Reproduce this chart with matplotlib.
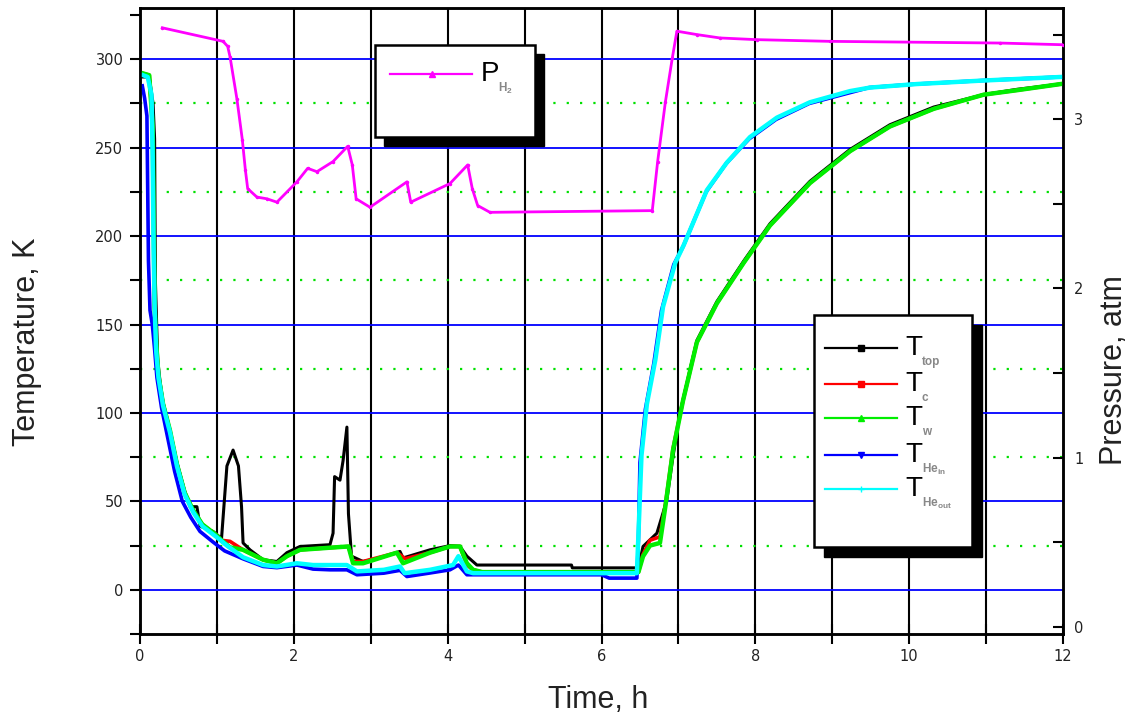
import numpy as np
import matplotlib
matplotlib.use('Agg')
import matplotlib.pyplot as plt
from matplotlib.ticker import MultipleLocator, FixedLocator
from matplotlib.patches import Rectangle
from matplotlib.lines import Line2D

# ---- data (time in h, T in K, P in atm) ----
t_top = [0.04, 0.12, 0.17, 0.19, 0.20, 0.23, 0.26, 0.30, 0.39, 0.48, 0.58, 0.65, 0.74, 0.78, 0.95,
         1.06, 1.13, 1.21, 1.28, 1.32, 1.34, 1.43, 1.60, 1.78, 1.91, 2.08, 2.47, 2.51, 2.53, 2.60,
         2.64, 2.69, 2.71, 2.75, 2.90, 3.12, 3.38, 3.42, 3.77, 4.03, 4.16, 4.25, 4.38, 5.61, 5.62,
         6.48, 6.54, 6.72, 6.80, 6.85, 6.93, 7.02, 7.24, 7.50, 7.85, 8.19, 8.71, 9.23, 9.75,
         10.32, 10.97, 11.40, 11.97]
T_top = [290, 290, 275, 255, 175, 130, 118, 106, 90, 72, 56, 47, 47, 36, 33,
         29, 70, 79, 70, 47, 26.5, 22.6, 17, 16, 21, 24.5, 25.5, 32, 64, 62,
         73, 92, 43, 19, 16, 18, 21.7, 18, 22.6, 25, 24.5, 19, 14, 14, 12.4,
         12.4, 24.5, 32, 43.5, 51, 75.5, 100, 141, 163, 186, 207, 231, 249, 263,
         273, 280, 283, 286]

t_w = [0.04, 0.12, 0.165, 0.18, 0.19, 0.21, 0.24, 0.30, 0.39, 0.48, 0.58, 0.69, 0.81, 0.99,
       1.06, 1.17, 1.34, 1.60, 1.78, 1.91, 2.08, 2.47, 2.71, 2.77, 2.90, 3.34, 3.42, 3.77, 4.03,
       4.16, 4.25, 4.33, 4.45, 5.5, 6.48, 6.54, 6.63, 6.76, 6.83, 6.93, 7.06, 7.24, 7.50, 7.85,
       8.19, 8.71, 9.23, 9.75, 10.32, 10.97, 11.40, 11.97]
T_w = [292, 291, 262, 200, 160, 140, 121, 105, 90, 71, 55, 45, 37, 31,
       28, 24, 22.6, 17, 15, 19, 22.6, 23.8, 24.5, 15, 15, 21, 15, 21, 24.5,
       24.5, 15, 11.3, 10, 10, 10, 18.9, 25, 26.5, 47, 79, 107, 140, 162, 185,
       206, 230, 248, 262, 272, 280, 282.5, 286]

t_c = [0.04, 0.12, 0.165, 0.18, 0.19, 0.21, 0.24, 0.30, 0.39, 0.48, 0.58, 0.69, 0.81, 0.99,
       1.06, 1.17, 1.34, 1.60, 1.78, 1.91, 2.08, 2.47, 2.71, 2.77, 2.90, 3.34, 3.45, 3.77, 4.03,
       4.16, 4.25, 4.33, 4.45, 5.5, 6.48, 6.54, 6.63, 6.76, 6.83, 6.93, 7.06, 7.24, 7.50, 7.85,
       8.19, 8.71, 9.23, 9.75, 10.32, 10.97, 11.40, 11.97]
T_c = [292, 291, 262, 200, 160, 140, 121, 105, 90, 71, 55, 45, 37, 31,
       28, 27.4, 22.6, 17, 15, 19, 22.6, 23.8, 24.5, 16, 16, 21, 17.6, 21, 24.5,
       24.5, 14, 11.3, 10, 10, 10, 20, 28, 30, 48, 80, 107, 140, 162, 185,
       206, 230, 248, 262, 272, 280, 282.5, 286]

t_hein = [0.03, 0.06, 0.09, 0.11, 0.13, 0.16, 0.19, 0.22, 0.28, 0.36, 0.45, 0.55, 0.66, 0.78,
          0.95, 1.10, 1.34, 1.60, 1.78, 2.04, 2.25, 2.47, 2.69, 2.82, 3.17, 3.38, 3.47, 3.77,
          4.03, 4.14, 4.25, 4.33, 5.0, 6.0, 6.10, 6.46, 6.48, 6.50, 6.57, 6.68, 6.78, 6.94,
          7.06, 7.36, 7.62, 7.92, 8.27, 8.70, 9.22, 9.48, 10.09, 10.53, 10.96, 11.97]
T_hein = [285, 278, 268, 186, 158, 150, 136, 120, 103, 86, 67, 50, 41, 33,
          27, 22, 17.5, 13.2, 12.5, 14, 11.7, 11.3, 11.3, 8.5, 9.4, 11, 7.5, 9.5,
          11.3, 14, 8.5, 8.5, 8.5, 8.5, 6.6, 6.6, 28, 72, 102, 128, 158, 184,
          194, 225, 241, 255, 266, 275, 281, 284, 286, 287, 288, 290]

t_heout = [0.04, 0.10, 0.15, 0.165, 0.175, 0.19, 0.21, 0.24, 0.30, 0.39, 0.48, 0.58, 0.69,
           0.81, 0.99, 1.13, 1.34, 1.60, 1.78, 2.04, 2.25, 2.47, 2.69, 2.82, 3.17, 3.38, 3.44,
           3.77, 4.07, 4.14, 4.25, 4.33, 5.0, 6.0, 6.46, 6.48, 6.52, 6.59, 6.70, 6.80, 6.96,
           7.07, 7.37, 7.63, 7.93, 8.28, 8.71, 9.23, 9.49, 10.10, 10.54, 10.97, 11.97]
T_heout = [291, 290, 280, 245, 200, 160, 135, 120, 104, 89, 70, 54, 44,
           36, 30, 25, 18.4, 14, 13.2, 15, 14, 14, 14, 10.4, 11.3, 13.2, 9.4,
           11.3, 14, 19, 10.4, 9.4, 9.4, 9.4, 9.4, 31, 76, 105, 130, 160, 185,
           195, 226, 241.6, 256, 267, 275.7, 282, 284, 286, 287, 288, 290]

t_p = [0.29, 1.08, 1.14, 1.17, 1.26, 1.33, 1.37, 1.40, 1.52, 1.65, 1.78, 2.04, 2.18, 2.30,
       2.51, 2.70, 2.76, 2.81, 2.99, 3.47, 3.52, 4.03, 4.26, 4.32, 4.39, 4.55, 6.66, 6.73,
       6.83, 6.92, 6.98, 7.24, 7.54, 8.02, 8.97, 11.18, 12.0]
P_h2 = [3.54, 3.46, 3.43, 3.37, 3.12, 2.88, 2.70, 2.59, 2.54, 2.53, 2.51, 2.63, 2.71, 2.69,
        2.75, 2.84, 2.73, 2.53, 2.48, 2.63, 2.51, 2.62, 2.73, 2.59, 2.49, 2.45, 2.46, 2.75,
        3.10, 3.36, 3.52, 3.50, 3.48, 3.47, 3.46, 3.45, 3.44]

W, H = 1139, 725


def fx(x):
    return x / W


def fy(y):
    return 1 - y / H


fig = plt.figure(figsize=(W / 100, H / 100), dpi=100)
ax = fig.add_axes([fx(140), fy(634), (1063 - 140) / W, (634 - 8) / H])
ax.set_xlim(0, 12)
ax.set_ylim(-25, 329)

# grid
for x in range(1, 12):
    ax.axvline(x, color='black', lw=1.5, zorder=1)
for y in range(0, 301, 50):
    ax.axhline(y, color='#0000ff', lw=1.3, zorder=1)
for y in range(25, 300, 50):
    ax.axhline(y, color='#00e000', lw=1.6, ls=(0, (1, 5)), zorder=1)

ax.plot(t_top, T_top, color='black', lw=2.2, zorder=3)
ax.plot(t_c, T_c, color='#ff0000', lw=2.6, zorder=4)
ax.plot(t_w, T_w, color='#00ee00', lw=3.2, zorder=5)
ax.plot(t_hein, T_hein, color='#0000ff', lw=2.6, zorder=6)
ax.plot(t_heout, T_heout, color='#00ffff', lw=3.2, zorder=7)

ax.xaxis.set_major_locator(MultipleLocator(2))
ax.xaxis.set_minor_locator(MultipleLocator(1))
ax.yaxis.set_major_locator(FixedLocator(range(0, 301, 50)))
ax.yaxis.set_minor_locator(FixedLocator(range(-25, 330, 50)))
ax.tick_params(axis='y', which='both', direction='out', length=7, width=1.5, pad=5,
               labelsize=10.5, labelcolor='#222222')
ax.tick_params(axis='x', which='both', direction='inout', length=14, width=1.5, pad=4,
               labelsize=10.5, labelcolor='#222222', top=False)
for s in ax.spines.values():
    s.set_linewidth(1.8)

ax2 = ax.twinx()
ax2.set_ylim(-0.041, 3.657)
ax2.plot(t_p, P_h2, color='#ff00ff', lw=2, marker='.', ms=3, zorder=3)
ax2.yaxis.set_major_locator(FixedLocator([0, 1, 2, 3]))
ax2.yaxis.set_minor_locator(FixedLocator([0.5, 1.5, 2.5, 3.5]))
ax2.tick_params(axis='y', which='both', direction='in', length=7, width=1.5, pad=8,
                labelsize=10.5, labelcolor='#222222')
for s in ax2.spines.values():
    s.set_linewidth(1.8)

lab = dict(family=['Liberation Sans Narrow', 'Liberation Sans'], fontsize=22, color='#222222')
fig.text(fx(27), fy(342), 'Temperature, K', rotation=90, ha='center', va='center', **lab)
fig.text(fx(598), fy(700), 'Time, h', ha='center', va='center', **lab)
fig.text(fx(1114), fy(370), 'Pressure, atm', rotation=90, ha='center', va='center', **lab)


def box(x0, y0, x1, y1, off):
    fig.patches.append(Rectangle((fx(x0 + off), fy(y1 + off)), (x1 - x0) / W, (y1 - y0) / H,
                                 transform=fig.transFigure, facecolor='black', edgecolor='black',
                                 zorder=20))
    fig.patches.append(Rectangle((fx(x0), fy(y1)), (x1 - x0) / W, (y1 - y0) / H,
                                 transform=fig.transFigure, facecolor='white', edgecolor='black',
                                 lw=1.8, zorder=21))


def entry(y, color, marker, main, sub, x0, x1, xm, xt):
    fig.lines.append(Line2D([fx(x0), fx(x1)], [fy(y), fy(y)], transform=fig.transFigure,
                            color=color, lw=1.6, zorder=22))
    fig.lines.append(Line2D([fx(xm)], [fy(y)], transform=fig.transFigure, color=color,
                            marker=marker, ms=4, zorder=22))
    fig.text(fx(xt), fy(y), main, fontsize=20, family='Liberation Sans', color='black',
             va='center', ha='left', zorder=23)
    fig.text(fx(xt + 17), fy(y + 14), sub, fontsize=8.5, family='Liberation Sans',
             color='#888888', fontweight='bold', va='center', ha='left', zorder=23)


# pressure legend
box(375, 45, 535, 137, 9)
entry(74, '#ff00ff', '^', 'P', 'H$_\\mathregular{2}$', 390, 472, 432, 481)

# temperature legend
box(814, 315, 972, 547, 10)
leg_y = [348, 384, 418, 455, 489]
leg_c = ['black', '#ff0000', '#00ee00', '#0000ff', '#00ffff']
leg_m = ['s', 's', '^', 'v', '+']
leg_sub = ['top', 'c', 'w', 'He$_\\mathregular{in}$', 'He$_\\mathregular{out}$']
for y, c, m, s in zip(leg_y, leg_c, leg_m, leg_sub):
    entry(y, c, m, 'T', s, 825, 897, 861, 905)

fig.savefig('out.png', dpi=100)
